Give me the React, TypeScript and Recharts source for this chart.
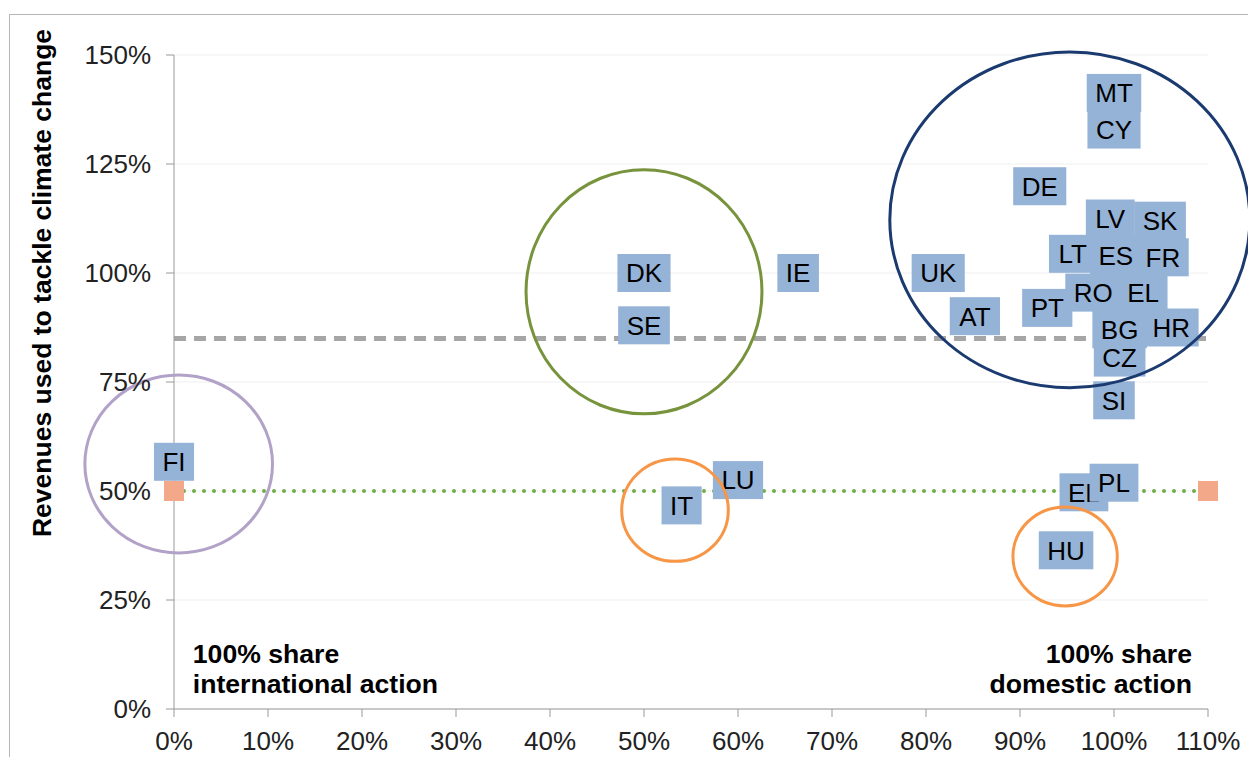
import React from 'react';
import { ScatterChart, Scatter, XAxis, YAxis, CartesianGrid, ReferenceLine, ReferenceArea, ReferenceDot } from 'recharts';

// country labels: share of revenues for domestic action (x) and revenues used to tackle climate change (y)
const countries = ['FI', 'DK', 'SE', 'IE', 'IT', 'LU', 'UK', 'AT', 'DE', 'PT', 'CY', 'MT', 'LT', 'LV', 'SK', 'RO', 'ES', 'FR', 'EL', 'CZ', 'SI', 'BG', 'HR', 'EL', 'PL', 'HU'];
const domesticShare = [0.0, 0.5, 0.5, 0.664, 0.54, 0.6, 0.813, 0.852, 0.921, 0.929, 1.0, 1.0, 0.956, 0.996, 1.049, 0.978, 1.002, 1.052, 1.031, 1.006, 1.0, 1.006, 1.061, 0.968, 1.0, 0.949];
const climateUse = [0.567, 1.0, 0.88, 1.0, 0.467, 0.525, 1.0, 0.901, 1.199, 0.92, 1.329, 1.413, 1.044, 1.125, 1.12, 0.955, 1.04, 1.036, 0.955, 0.806, 0.708, 0.871, 0.875, 0.497, 0.519, 0.364];

// group ellipses: centre and half-extent in data units
const groupCx = [0.005, 0.5, 0.953, 0.533, 0.948];
const groupCy = [0.562, 0.957, 1.122, 0.456, 0.35];
const groupRx = [0.0998, 0.1255, 0.1915, 0.0567, 0.0555];
const groupRy = [0.204, 0.28, 0.385, 0.1174, 0.1135];
const groupColors = ['#B3A2C7', '#77933C', '#1B3A70', '#F79646', '#F79646'];

const thresholdLine = 0.85;
const referenceLevel = 0.5;
const referenceEnds = [0, 1.1];

const xTicks = [0, 0.1, 0.2, 0.3, 0.4, 0.5, 0.6, 0.7, 0.8, 0.9, 1.0, 1.1];
const yTicks = [0, 0.25, 0.5, 0.75, 1.0, 1.25, 1.5];

const points = countries.map((code, i) => ({ code, x: domesticShare[i], y: climateUse[i] }));
const refPoints = referenceEnds.map((x) => ({ x, y: referenceLevel }));

const pct = (v: number) => `${Math.round(v * 100)}%`;

const FONT = '"Liberation Sans", Arial, sans-serif';

const charW: Record<string, number> = {
  A: 0.667, B: 0.667, C: 0.722, D: 0.722, E: 0.667, F: 0.611, G: 0.778, H: 0.722, I: 0.278,
  K: 0.667, L: 0.556, M: 0.833, O: 0.778, P: 0.667, R: 0.722, S: 0.667, T: 0.611, U: 0.722,
  V: 0.667, Y: 0.667, Z: 0.611,
};
const textWidth = (s: string, size: number) => s.split('').reduce((a, c) => a + (charW[c] ?? 0.65), 0) * size;

const LabelBox = (props: any) => {
  const { cx, cy, payload } = props;
  const w = textWidth(payload.code, 26) + 17;
  const h = 38;
  return (
    <g>
      <rect x={cx - w / 2} y={cy - h / 2} width={w} height={h} fill="#95B3D7" />
      <text x={cx} y={cy} dy="0.36em" textAnchor="middle" fontSize={26} fill="#000" fontFamily={FONT}>
        {payload.code}
      </text>
    </g>
  );
};

const SquareMarker = (props: any) => (
  <rect x={props.cx - 10} y={props.cy - 10} width={20} height={20} fill="#F4A88A" />
);

const Note = ({ cx, cy, lines, anchor }: any) => (
  <text x={cx} y={cy} textAnchor={anchor} fontSize={26.6} fontWeight="bold" fill="#000" fontFamily={FONT}>
    {lines.map((l: string, i: number) => (
      <tspan key={i} x={cx} dy={i === 0 ? 0 : 30}>{l}</tspan>
    ))}
  </text>
);

const App = () => {
  return (
    <div style={{ position: 'fixed', left: 0, top: 0, width: 1248, height: 757, background: '#fff', fontFamily: FONT, overflow: 'hidden' }}>
      <div style={{ position: 'absolute', left: 9, top: 14, width: 1239, height: 743, borderLeft: '1px solid #b5b5b5', borderTop: '1px solid #b5b5b5' }} />
      <div style={{ position: 'absolute', left: 0, top: 0 }}>
        <ScatterChart width={1248} height={757} margin={{ top: 55, right: 40, bottom: 0, left: 74 }}>
          <CartesianGrid vertical={false} stroke="#EFEFEF" />
          <XAxis
            type="number"
            dataKey="x"
            domain={[0, 1.1]}
            ticks={xTicks}
            tickFormatter={pct}
            height={48}
            stroke="#999"
            tickSize={8}
            tickMargin={15}
            tick={{ fill: '#222', fontSize: 26 }}
          />
          <YAxis
            type="number"
            dataKey="y"
            domain={[0, 1.5]}
            ticks={yTicks}
            tickFormatter={pct}
            width={100}
            stroke="#999"
            tickSize={8}
            tickMargin={15}
            tick={{ fill: '#222', fontSize: 26 }}
            label={{
              content: () => (
                <text x={51} y={283} transform="rotate(-90 51 283)" textAnchor="middle" fontSize={26.5} fontWeight="bold" fill="#000" fontFamily={FONT}>
                  Revenues used to tackle climate change
                </text>
              ),
            }}
          />
          <ReferenceLine y={thresholdLine} stroke="#A6A6A6" strokeWidth={5} strokeDasharray="12 8" />
          <Scatter
            data={refPoints}
            shape={SquareMarker}
            line={{ stroke: '#70AD47', strokeWidth: 4, strokeDasharray: '0 10', strokeLinecap: 'round' }}
            isAnimationActive={false}
          />
          <Scatter data={points} shape={LabelBox} isAnimationActive={false} />
          {groupCx.map((cx, i) => (
            <ReferenceArea
              key={i}
              x1={cx - groupRx[i]}
              x2={cx + groupRx[i]}
              y1={groupCy[i] - groupRy[i]}
              y2={groupCy[i] + groupRy[i]}
              ifOverflow="visible"
              zIndex={700}
              shape={(p: any) => (
                <ellipse
                  cx={p.x + p.width / 2}
                  cy={p.y + p.height / 2}
                  rx={p.width / 2}
                  ry={p.height / 2}
                  fill="none"
                  stroke={groupColors[i]}
                  strokeWidth={3}
                />
              )}
            />
          ))}
          <ReferenceDot
            x={0.02}
            y={0.1055}
            ifOverflow="visible"
            shape={(p: any) => <Note cx={p.cx} cy={p.cy} anchor="start" lines={['100% share', 'international action']} />}
          />
          <ReferenceDot
            x={1.083}
            y={0.1055}
            ifOverflow="visible"
            shape={(p: any) => <Note cx={p.cx} cy={p.cy} anchor="end" lines={['100% share', 'domestic action']} />}
          />
        </ScatterChart>
      </div>
    </div>
  );
};

export default App;
